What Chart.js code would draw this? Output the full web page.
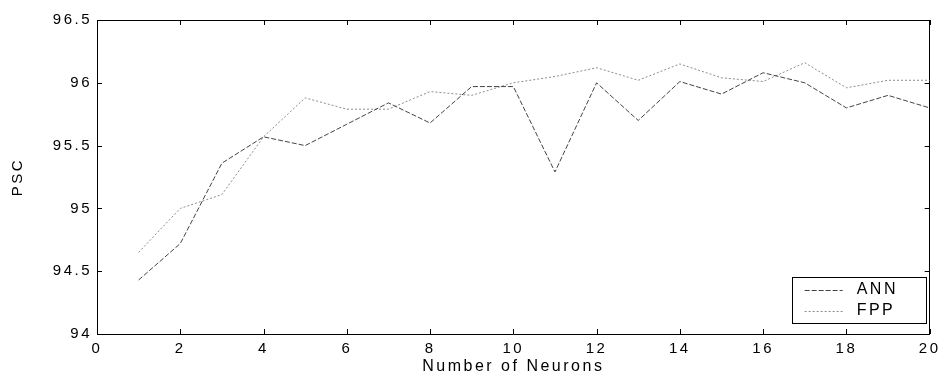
<!DOCTYPE html>
<html>
<head>
<meta charset="utf-8">
<script src="https://cdn.jsdelivr.net/npm/chart.js@4.4.1/dist/chart.umd.min.js"></script>
<style>
  html, body { margin: 0; padding: 0; background: #fff; }
  #wrap { width: 944px; height: 378px; position: relative; }
</style>
</head>
<body>
<div id="wrap"><canvas id="c" width="944" height="378"></canvas></div>
<script>
const neurons = [1,2,3,4,5,6,7,8,9,10,11,12,13,14,15,16,17,18,19,20];
const annValues = [94.43, 94.72, 95.36, 95.57, 95.50, 95.67, 95.84, 95.68, 95.97, 95.97, 95.29, 96.00, 95.70, 96.01, 95.91, 96.08, 96.00, 95.80, 95.90, 95.80];
const fppValues = [94.65, 95.00, 95.11, 95.57, 95.88, 95.79, 95.79, 95.93, 95.90, 96.00, 96.05, 96.12, 96.02, 96.15, 96.04, 96.01, 96.16, 95.96, 96.02, 96.02];
const xTicks = [0,2,4,6,8,10,12,14,16,18,20];
const yTicks = [94, 94.5, 95, 95.5, 96, 96.5];
const seriesNames = ['ANN', 'FPP'];

const FONT = "'Liberation Sans', Arial, sans-serif";
const SPACING = '2.5px';

const spacingPlugin = {
  id: 'spacing',
  beforeDraw(chart) { chart.ctx.letterSpacing = SPACING; }
};

const inwardTicks = {
  id: 'inwardTicks',
  afterDraw(chart) {
    const ctx = chart.ctx;
    const a = chart.chartArea;
    const L = 5;
    ctx.save();
    ctx.strokeStyle = '#000';
    ctx.lineWidth = 1;
    ctx.beginPath();
    const xs = chart.scales.x;
    xTicks.forEach(v => {
      const px = Math.round(xs.getPixelForValue(v)) + 0.5;
      ctx.moveTo(px, a.bottom); ctx.lineTo(px, a.bottom - L);
      ctx.moveTo(px, a.top); ctx.lineTo(px, a.top + L);
    });
    const ys = chart.scales.y;
    yTicks.forEach(v => {
      const py = Math.round(ys.getPixelForValue(v)) + 0.5;
      ctx.moveTo(a.left, py); ctx.lineTo(a.left + L, py);
      ctx.moveTo(a.right, py); ctx.lineTo(a.right - L, py);
    });
    ctx.stroke();
    ctx.restore();
  }
};

const boxLegend = {
  id: 'boxLegend',
  afterDraw(chart) {
    const ctx = chart.ctx;
    const a = chart.chartArea;
    const w = 134, h = 46;
    const x0 = a.right - 4 - w, y0 = a.bottom - 11 - h;
    ctx.save();
    ctx.fillStyle = '#fff';
    ctx.fillRect(x0, y0, w, h);
    ctx.strokeStyle = '#000';
    ctx.lineWidth = 1;
    ctx.strokeRect(Math.round(x0) + 0.5, Math.round(y0) + 0.5, w, h);
    chart.data.datasets.forEach((ds, i) => {
      const yy = y0 + 13 + i * 21;
      ctx.strokeStyle = ds.borderColor;
      ctx.setLineDash(ds.borderDash || []);
      ctx.beginPath();
      ctx.moveTo(x0 + 13, yy + 0.5);
      ctx.lineTo(x0 + 51, yy + 0.5);
      ctx.stroke();
      ctx.setLineDash([]);
      ctx.fillStyle = '#000';
      ctx.font = "16px " + FONT;
      ctx.letterSpacing = SPACING;
      ctx.textBaseline = 'middle';
      ctx.textAlign = 'left';
      ctx.fillText(ds.label, x0 + 65, yy);
    });
    ctx.restore();
  }
};

const tickFont = { family: FONT, size: 15 };

new Chart(document.getElementById('c'), {
  type: 'line',
  data: {
    datasets: [
      {
        label: seriesNames[0],
        data: neurons.map((n, i) => ({ x: n, y: annValues[i] })),
        borderColor: '#444444',
        borderWidth: 1,
        borderDash: [5, 2],
        pointRadius: 0,
        tension: 0,
        fill: false
      },
      {
        label: seriesNames[1],
        data: neurons.map((n, i) => ({ x: n, y: fppValues[i] })),
        borderColor: '#8c8c8c',
        borderWidth: 1,
        borderDash: [2, 2],
        pointRadius: 0,
        tension: 0,
        fill: false
      }
    ]
  },
  options: {
    responsive: false,
    animation: false,
    layout: { padding: 0 },
    plugins: { legend: { display: false }, tooltip: { enabled: false } },
    scales: {
      x: {
        type: 'linear', position: 'bottom', min: 0, max: 20,
        afterFit(s) { s.height = 44; },
        afterBuildTicks(s) { s.ticks = xTicks.map(v => ({ value: v })); },
        grid: { display: false, drawTicks: false },
        border: { display: true, color: '#000', width: 1 },
        ticks: { color: '#000', font: tickFont, padding: 6, maxRotation: 0, autoSkip: false, callback: v => String(v) },
        title: { display: true, text: 'Number of Neurons', color: '#000', font: { family: FONT, size: 16 }, padding: { top: 0, bottom: 2 } }
      },
      x2: {
        type: 'linear', position: 'top', min: 0, max: 20,
        afterFit(s) { s.height = 20; },
        grid: { display: false, drawTicks: false },
        border: { display: true, color: '#000', width: 1 },
        ticks: { display: false }
      },
      y: {
        type: 'linear', position: 'left', min: 94, max: 96.5,
        afterFit(s) { s.width = 97; },
        afterBuildTicks(s) { s.ticks = yTicks.map(v => ({ value: v })); },
        grid: { display: false, drawTicks: false },
        border: { display: true, color: '#000', width: 1 },
        ticks: { color: '#000', font: tickFont, padding: 5, callback: v => String(v) },
        title: { display: true, text: 'PSC', color: '#000', font: { family: FONT, size: 15 }, padding: { top: 9, bottom: 0 } }
      },
      y2: {
        type: 'linear', position: 'right', min: 94, max: 96.5,
        afterFit(s) { s.width = 12; },
        grid: { display: false, drawTicks: false },
        border: { display: true, color: '#000', width: 1 },
        ticks: { display: false }
      }
    }
  },
  plugins: [spacingPlugin, inwardTicks, boxLegend]
});
</script>
</body>
</html>
